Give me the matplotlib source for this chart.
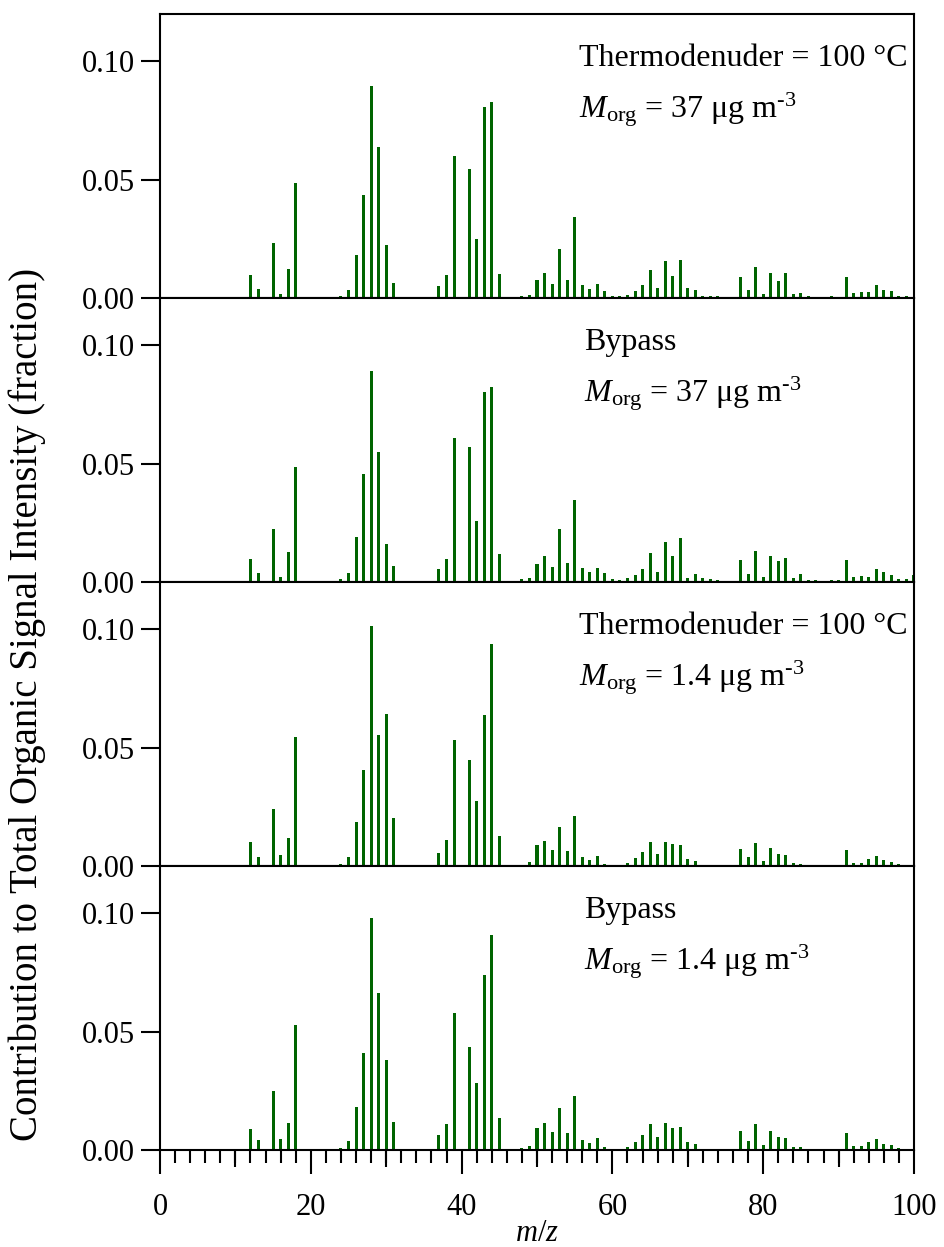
import numpy as np
import matplotlib
matplotlib.use("Agg")
import matplotlib.pyplot as plt
from matplotlib.ticker import MultipleLocator, FormatStrFormatter, FixedLocator, NullFormatter

plt.rcParams["font.family"] = ["Liberation Serif", "DejaVu Serif"]
plt.rcParams["mathtext.fontset"] = "custom"
plt.rcParams["mathtext.rm"] = "Liberation Serif"
plt.rcParams["mathtext.it"] = "Liberation Serif:italic"

# m/z values with signal
mz = [12, 13, 15, 16, 17, 18, 20, 24, 25, 26, 27, 28, 29, 30, 31,
      37, 38, 39, 41, 42, 43, 44, 45, 48, 49] + list(range(50, 101))

td_37 = [0.0099, 0.0037, 0.0233, 0.0017, 0.0121, 0.0486, 0.0, 0.0008, 0.0035, 0.0181,
         0.0436, 0.0894, 0.0638, 0.0223, 0.0065, 0.0052, 0.0096, 0.0602, 0.0547, 0.0250,
         0.0809, 0.0829, 0.0103, 0.0007, 0.0013,
         0.0075, 0.0106, 0.0061, 0.0206, 0.0075, 0.0343, 0.0056, 0.0038, 0.0059, 0.0028,
         0.0008, 0.0007, 0.0013, 0.0030, 0.0054, 0.0117, 0.0041, 0.0155, 0.0092, 0.0162,
         0.0044, 0.0035, 0.0008, 0.0008, 0.0007, 0.0, 0.0, 0.0090, 0.0032, 0.0130,
         0.0016, 0.0106, 0.0072, 0.0107, 0.0016, 0.0021, 0.0007, 0.0004, 0.0004, 0.0007,
         0.0, 0.0088, 0.0020, 0.0027, 0.0024, 0.0056, 0.0034, 0.0028, 0.0008, 0.0008,
         0.0005]

bp_37 = [0.0098, 0.0038, 0.0226, 0.0022, 0.0125, 0.0487, 0.0004, 0.0014, 0.0039, 0.0191,
         0.0456, 0.0890, 0.0551, 0.0159, 0.0066, 0.0053, 0.0097, 0.0610, 0.0572, 0.0256,
         0.0801, 0.0823, 0.0117, 0.0011, 0.0015,
         0.0078, 0.0110, 0.0062, 0.0222, 0.0080, 0.0346, 0.0058, 0.0044, 0.0060, 0.0038,
         0.0011, 0.0008, 0.0015, 0.0031, 0.0055, 0.0121, 0.0042, 0.0169, 0.0110, 0.0184,
         0.0017, 0.0034, 0.0015, 0.0014, 0.0007, 0.0006, 0.0006, 0.0093, 0.0034, 0.0133,
         0.0020, 0.0110, 0.0088, 0.0103, 0.0018, 0.0032, 0.0010, 0.0007, 0.0004, 0.0007,
         0.0008, 0.0091, 0.0022, 0.0027, 0.0022, 0.0053, 0.0041, 0.0028, 0.0011, 0.0011,
         0.0028]

td_14 = [0.0101, 0.0038, 0.0242, 0.0047, 0.0118, 0.0544, 0.0, 0.0008, 0.0037, 0.0184,
         0.0405, 0.1013, 0.0554, 0.0642, 0.0201, 0.0055, 0.0109, 0.0534, 0.0450, 0.0273,
         0.0640, 0.0939, 0.0125, 0.0006, 0.0016,
         0.0089, 0.0106, 0.0069, 0.0163, 0.0064, 0.0210, 0.0037, 0.0027, 0.0041, 0.0010,
         0.0006, 0.0006, 0.0011, 0.0033, 0.0061, 0.0102, 0.0052, 0.0103, 0.0091, 0.0088,
         0.0031, 0.0020, 0.0004, 0.0004, 0.0003, 0.0002, 0.0003, 0.0072, 0.0037, 0.0096,
         0.0023, 0.0075, 0.0050, 0.0048, 0.0014, 0.0008, 0.0003, 0.0003, 0.0003, 0.0003,
         0.0003, 0.0068, 0.0014, 0.0014, 0.0031, 0.0044, 0.0024, 0.0017, 0.0007, 0.0004,
         0.0]

bp_14 = [0.0087, 0.0041, 0.0250, 0.0045, 0.0112, 0.0527, 0.0, 0.0009, 0.0037, 0.0182,
         0.0408, 0.0980, 0.0665, 0.0381, 0.0119, 0.0063, 0.0111, 0.0577, 0.0435, 0.0283,
         0.0741, 0.0908, 0.0135, 0.0007, 0.0016,
         0.0092, 0.0114, 0.0074, 0.0178, 0.0070, 0.0230, 0.0044, 0.0031, 0.0050, 0.0013,
         0.0006, 0.0006, 0.0014, 0.0034, 0.0063, 0.0111, 0.0055, 0.0116, 0.0095, 0.0098,
         0.0033, 0.0026, 0.0006, 0.0006, 0.0006, 0.0003, 0.0003, 0.0080, 0.0038, 0.0108,
         0.0023, 0.0082, 0.0057, 0.0051, 0.0014, 0.0011, 0.0003, 0.0003, 0.0003, 0.0004,
         0.0003, 0.0071, 0.0017, 0.0017, 0.0034, 0.0048, 0.0027, 0.0021, 0.0007, 0.0004,
         0.0]

series = [td_37, bp_37, td_14, bp_14]
line1 = ["Thermodenuder = 100 °C", "Bypass", "Thermodenuder = 100 °C", "Bypass"]
line2 = [r"$M_{\rm org}$ = 37 μg m$^{\text{-3}}$", r"$M_{\rm org}$ = 37 μg m$^{\text{-3}}$",
         r"$M_{\rm org}$ = 1.4 μg m$^{\text{-3}}$", r"$M_{\rm org}$ = 1.4 μg m$^{\text{-3}}$"]

W, H = 944, 1247
fig = plt.figure(figsize=(W / 100, H / 100), dpi=100)
left, right = 160 / W, 914 / W
top_px, ph = 14, 284
FS = 22
GREEN = "#006400"

for i, vals in enumerate(series):
    y0 = 1 - (top_px + (i + 1) * ph) / H
    ax = fig.add_axes([left, y0, right - left, ph / H])
    ax.bar(mz, vals, width=0.4, color=GREEN, linewidth=0)
    ax.set_xlim(0, 100)
    ax.set_ylim(0, 0.12)
    ax.yaxis.set_major_locator(MultipleLocator(0.05))
    ax.yaxis.set_major_formatter(FormatStrFormatter("%.2f"))
    ax.tick_params(axis="y", direction="out", length=14, width=1.5, labelsize=FS, pad=4)
    for s in ax.spines.values():
        s.set_linewidth(1.5)
    xl = 0.556 if i % 2 == 0 else 0.562
    ax.text(xl, 0.845, line1[i], transform=ax.transAxes, fontsize=23, va="center", ha="left")
    ax.text(xl, 0.665, line2[i], transform=ax.transAxes, fontsize=23, va="center", ha="left")
    if i < 3:
        ax.tick_params(axis="x", bottom=False, labelbottom=False)
    else:
        ax.xaxis.set_major_locator(MultipleLocator(20))
        ax.xaxis.set_minor_locator(MultipleLocator(2))
        ax.tick_params(axis="x", which="major", direction="out", length=17, width=1.5,
                       labelsize=FS, pad=14)
        ax.tick_params(axis="x", which="minor", direction="out", length=9, width=1.5)
        ax.set_xlabel(r"$m/z$", fontsize=FS, labelpad=-2)
        # intermediate ticks every 10
        sec = ax.secondary_xaxis("bottom")
        sec.xaxis.set_major_locator(FixedLocator([10, 30, 50, 70, 90]))
        sec.xaxis.set_major_formatter(NullFormatter())
        sec.tick_params(axis="x", direction="out", length=12.5, width=1.5)
        sec.spines["bottom"].set_visible(False)

fig.text(27 / W, 1 - 704 / H, "Contribution to Total Organic Signal Intensity (fraction)",
         rotation=90, fontsize=28, va="center", ha="center")

fig.savefig("out.png", dpi=100)
